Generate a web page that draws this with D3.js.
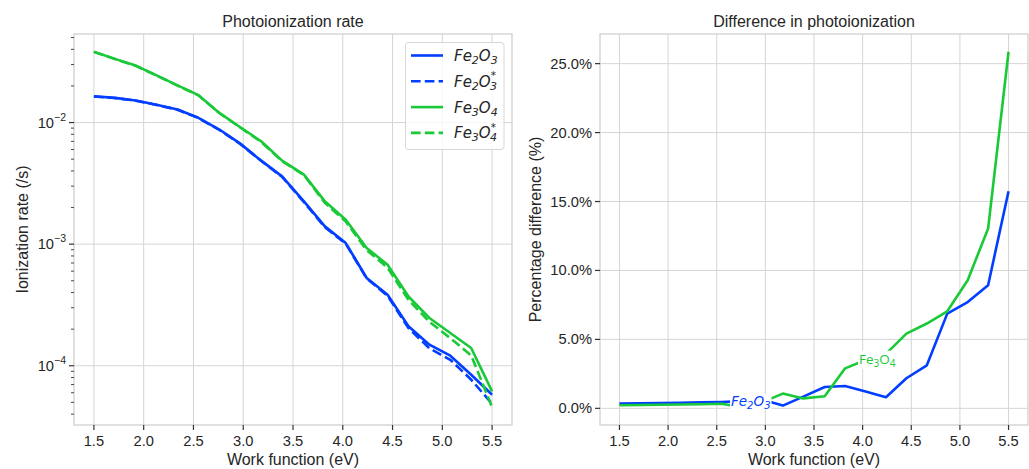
<!DOCTYPE html>
<html>
<head>
<meta charset="utf-8">
<script src="https://cdn.jsdelivr.net/npm/d3@7"></script>
<style>
  body { margin: 0; background: #fff; }
  svg text { font-family: "Liberation Sans", Arial, sans-serif; fill: #262626; }
  .math { font-family: "DejaVu Sans", sans-serif; font-style: italic; }
</style>
</head>
<body>
<div id="chart"></div>
<script>
// work function grid (eV)
var workFn = [1.5, 1.71, 1.92, 2.13, 2.34, 2.55, 2.76, 2.97, 3.18, 3.39,
              3.61, 3.82, 4.03, 4.24, 4.45, 4.66, 4.87, 5.08, 5.29, 5.5];

// ionization rates (/s)
var fe2o3 = [0.01644, 0.01596, 0.0152, 0.0140, 0.0128, 0.01094, 0.00876, 0.00671, 0.00486, 0.00361,
             0.00225, 0.00140, 0.00102, 0.000527, 0.000384, 0.000211, 0.000149, 0.000121, 0.0000843, 0.0000577];
var fe2o3Star = [0.01638, 0.01590, 0.01514, 0.01394, 0.01274, 0.01089, 0.00871, 0.00667, 0.00485, 0.00358,
                 0.002215, 0.001377, 0.001008, 0.000523, 0.000376, 0.000204, 0.000139, 0.000112, 0.0000768, 0.0000486];
var fe3o4 = [0.0382, 0.0334, 0.0294, 0.0244, 0.0202, 0.0168, 0.0120, 0.00914, 0.00702, 0.00486,
             0.00373, 0.00225, 0.00159, 0.000931, 0.000678, 0.000371, 0.000247, 0.000186, 0.000140, 0.0000615];
var fe3o4Star = [0.03812, 0.03332, 0.02932, 0.02433, 0.02014, 0.01674, 0.01199, 0.00910, 0.00694, 0.00482,
                 0.00370, 0.002185, 0.001534, 0.000894, 0.000641, 0.000348, 0.000230, 0.0001687, 0.0001217, 0.0000456];

// percentage difference
var diffFe2o3 = [0.34, 0.36, 0.38, 0.40, 0.43, 0.46, 0.52, 0.62, 0.20, 0.85,
                 1.55, 1.62, 1.22, 0.80, 2.18, 3.12, 6.87, 7.71, 8.93, 15.75];
var diffFe3o4 = [0.22, 0.24, 0.26, 0.28, 0.30, 0.33, 0.08, 0.45, 1.07, 0.72,
                 0.88, 2.90, 3.50, 3.95, 5.42, 6.15, 7.04, 9.29, 13.04, 25.86];

var xTicks = [1.5, 2.0, 2.5, 3.0, 3.5, 4.0, 4.5, 5.0, 5.5];
var pctTicks = [0, 5, 10, 15, 20, 25];

var blue = "#023eff", green = "#1ac938";
var gridColor = "#d5d5d5", spineColor = "#cccccc", tickColor = "#333";

var W = 1029, H = 469;
var svg = d3.select("#chart").append("svg").attr("width", W).attr("height", H);

function pad(ext, f) { var r = ext[1] - ext[0]; return [ext[0] - r * f, ext[1] + r * f]; }

var xDom = pad(d3.extent(workFn), 0.05);

// ---------------- left panel: photoionization rate ----------------
var L = {left: 74, right: 512, top: 34, bottom: 425};
var allRates = fe2o3.concat(fe2o3Star, fe3o4, fe3o4Star);
var logExt = pad(d3.extent(allRates).map(Math.log10), 0.05);

var x1 = d3.scaleLinear().domain(xDom).range([L.left, L.right]);
var y1 = d3.scaleLog().domain([Math.pow(10, logExt[0]), Math.pow(10, logExt[1])]).range([L.bottom, L.top]);

var g1 = svg.append("g");
var majors = [1e-4, 1e-3, 1e-2];
var minors = [];
[-5, -4, -3, -2].forEach(function(e) {
    d3.range(2, 10).forEach(function(m) {
        var v = m * Math.pow(10, e);
        if (v >= y1.domain()[0] && v <= y1.domain()[1]) minors.push(v);
    });
});

// grid
g1.selectAll(".vg").data(xTicks).enter().append("line")
    .attr("x1", function(d) { return x1(d); }).attr("x2", function(d) { return x1(d); })
    .attr("y1", L.top).attr("y2", L.bottom)
    .attr("stroke", gridColor).attr("stroke-width", 1);
g1.selectAll(".hg").data(majors).enter().append("line")
    .attr("x1", L.left).attr("x2", L.right)
    .attr("y1", function(d) { return y1(d); }).attr("y2", function(d) { return y1(d); })
    .attr("stroke", gridColor).attr("stroke-width", 1);

var line1 = d3.line().x(function(d, i) { return x1(workFn[i]); }).y(function(d) { return y1(d); });
var series1 = [
    {vals: fe2o3, color: blue, dash: null},
    {vals: fe2o3Star, color: blue, dash: "9.6,4.2"},
    {vals: fe3o4, color: green, dash: null},
    {vals: fe3o4Star, color: green, dash: "9.6,4.2"}
];
series1.forEach(function(s) {
    g1.append("path").datum(s.vals)
        .attr("d", line1).attr("fill", "none")
        .attr("stroke", s.color).attr("stroke-width", 2.6)
        .attr("stroke-linejoin", "round")
        .attr("stroke-dasharray", s.dash);
});

// frame
g1.append("rect").attr("x", L.left).attr("y", L.top)
    .attr("width", L.right - L.left).attr("height", L.bottom - L.top)
    .attr("fill", "none").attr("stroke", spineColor).attr("stroke-width", 1.2);

// x ticks
xTicks.forEach(function(t) {
    g1.append("line").attr("x1", x1(t)).attr("x2", x1(t)).attr("y1", L.bottom).attr("y2", L.bottom + 5)
        .attr("stroke", tickColor).attr("stroke-width", 1.2);
    g1.append("text").attr("x", x1(t)).attr("y", 446).attr("text-anchor", "middle")
        .style("font-size", "14.7px").text(d3.format(".1f")(t));
});
// y ticks
majors.forEach(function(t) {
    g1.append("line").attr("x1", L.left - 5).attr("x2", L.left).attr("y1", y1(t)).attr("y2", y1(t))
        .attr("stroke", tickColor).attr("stroke-width", 1.2);
    var txt = g1.append("text").attr("x", L.left - 8).attr("y", y1(t) + 5).attr("text-anchor", "end")
        .style("font-size", "14.7px");
    txt.append("tspan").text("10");
    txt.append("tspan").attr("dy", -7).style("font-size", "10.5px")
        .text("\u2212" + Math.abs(Math.round(Math.log10(t))));
});
minors.forEach(function(t) {
    g1.append("line").attr("x1", L.left - 3).attr("x2", L.left).attr("y1", y1(t)).attr("y2", y1(t))
        .attr("stroke", tickColor).attr("stroke-width", 0.9);
});

g1.append("text").attr("x", (L.left + L.right) / 2).attr("y", 27).attr("text-anchor", "middle")
    .style("font-size", "16px").text("Photoionization rate");
g1.append("text").attr("x", (L.left + L.right) / 2).attr("y", 465).attr("text-anchor", "middle")
    .style("font-size", "16px").text("Work function (eV)");
g1.append("text").attr("transform", "translate(28," + ((L.top + L.bottom) / 2) + ")rotate(-90)")
    .attr("text-anchor", "middle").style("font-size", "16px").text("Ionization rate (/s)");

// legend
var leg = g1.append("g");
leg.append("rect").attr("x", 405.5).attr("y", 42.5).attr("width", 98.5).attr("height", 107)
    .attr("rx", 3).attr("fill", "#fff").attr("fill-opacity", 0.8)
    .attr("stroke", "#d8d8d8").attr("stroke-width", 1);
var legItems = [
    {a: "2", b: "3", star: false, color: blue, dash: null},
    {a: "2", b: "3", star: true, color: blue, dash: "9.6,4.2"},
    {a: "3", b: "4", star: false, color: green, dash: null},
    {a: "3", b: "4", star: true, color: green, dash: "9.6,4.2"}
];
legItems.forEach(function(it, i) {
    var yy = 55.5 + i * 25.8;
    leg.append("line").attr("x1", 411).attr("x2", 443).attr("y1", yy).attr("y2", yy)
        .attr("stroke", it.color).attr("stroke-width", 2.6).attr("stroke-dasharray", it.dash);
    var t = leg.append("text").attr("class", "math").attr("x", 454).attr("y", yy + 5.5)
        .style("font-size", "15px");
    t.append("tspan").text("Fe");
    t.append("tspan").attr("dy", 3).style("font-size", "11px").text(it.a);
    t.append("tspan").attr("dy", -3).text("O");
    if (it.star) {
        t.append("tspan").attr("dy", -7.5).style("font-size", "10.5px").text("*");
        t.append("tspan").attr("dx", -6).attr("dy", 10.5).style("font-size", "11px").text(it.b);
    } else {
        t.append("tspan").attr("dy", 3).style("font-size", "11px").text(it.b);
    }
});

// ---------------- right panel: percentage difference ----------------
var R = {left: 600, right: 1028, top: 34, bottom: 425};
var x2 = d3.scaleLinear().domain(xDom).range([R.left, R.right]);
var y2 = d3.scaleLinear().domain(pad(d3.extent(diffFe2o3.concat(diffFe3o4)), 0.05)).range([R.bottom, R.top]);
var g2 = svg.append("g");

g2.selectAll(".vg").data(xTicks).enter().append("line")
    .attr("x1", function(d) { return x2(d); }).attr("x2", function(d) { return x2(d); })
    .attr("y1", R.top).attr("y2", R.bottom)
    .attr("stroke", gridColor).attr("stroke-width", 1);
g2.selectAll(".hg").data(pctTicks).enter().append("line")
    .attr("x1", R.left).attr("x2", R.right)
    .attr("y1", function(d) { return y2(d); }).attr("y2", function(d) { return y2(d); })
    .attr("stroke", gridColor).attr("stroke-width", 1);

var line2 = d3.line().x(function(d, i) { return x2(workFn[i]); }).y(function(d) { return y2(d); });
[{vals: diffFe2o3, color: blue}, {vals: diffFe3o4, color: green}].forEach(function(s) {
    g2.append("path").datum(s.vals)
        .attr("d", line2).attr("fill", "none")
        .attr("stroke", s.color).attr("stroke-width", 2.6)
        .attr("stroke-linejoin", "round");
});

// inline labels on the lines
function inlineLabel(xv, yv, color, sub1, sub2, italic) {
    var lg = g2.append("g");
    var t = lg.append("text").attr("x", x2(xv)).attr("y", y2(yv) + 5).attr("text-anchor", "middle")
        .style("font-size", "13.5px").style("fill", color)
        .style("font-family", italic ? "'DejaVu Sans', sans-serif" : "'Open Sans', 'DejaVu Sans', sans-serif")
        .style("font-style", italic ? "italic" : "normal");
    t.append("tspan").text("Fe");
    t.append("tspan").attr("dy", 3).style("font-size", "10px").text(sub1);
    t.append("tspan").attr("dy", -3).text("O");
    t.append("tspan").attr("dy", 3).style("font-size", "10px").text(sub2);
    var bb = t.node().getBBox();
    lg.insert("rect", "text").attr("x", bb.x - 1).attr("y", bb.y + 1)
        .attr("width", bb.width + 2).attr("height", bb.height - 2).attr("fill", "#fff");
}
inlineLabel(2.85, 0.55, blue, "2", "3", true);
inlineLabel(4.15, 3.6, green, "3", "4", false);

g2.append("rect").attr("x", R.left).attr("y", R.top)
    .attr("width", R.right - R.left).attr("height", R.bottom - R.top)
    .attr("fill", "none").attr("stroke", spineColor).attr("stroke-width", 1.2);

xTicks.forEach(function(t) {
    g2.append("line").attr("x1", x2(t)).attr("x2", x2(t)).attr("y1", R.bottom).attr("y2", R.bottom + 5)
        .attr("stroke", tickColor).attr("stroke-width", 1.2);
    g2.append("text").attr("x", x2(t)).attr("y", 446).attr("text-anchor", "middle")
        .style("font-size", "14.7px").text(d3.format(".1f")(t));
});
pctTicks.forEach(function(t) {
    g2.append("line").attr("x1", R.left - 5).attr("x2", R.left).attr("y1", y2(t)).attr("y2", y2(t))
        .attr("stroke", tickColor).attr("stroke-width", 1.2);
    g2.append("text").attr("x", R.left - 8).attr("y", y2(t) + 5).attr("text-anchor", "end")
        .style("font-size", "14.7px").text(d3.format(".1f")(t) + "%");
});

g2.append("text").attr("x", (R.left + R.right) / 2).attr("y", 27).attr("text-anchor", "middle")
    .style("font-size", "16px").text("Difference in photoionization");
g2.append("text").attr("x", (R.left + R.right) / 2).attr("y", 465).attr("text-anchor", "middle")
    .style("font-size", "16px").text("Work function (eV)");
g2.append("text").attr("transform", "translate(541," + ((R.top + R.bottom) / 2) + ")rotate(-90)")
    .attr("text-anchor", "middle").style("font-size", "16px").text("Percentage difference (%)");
</script>
</body>
</html>
